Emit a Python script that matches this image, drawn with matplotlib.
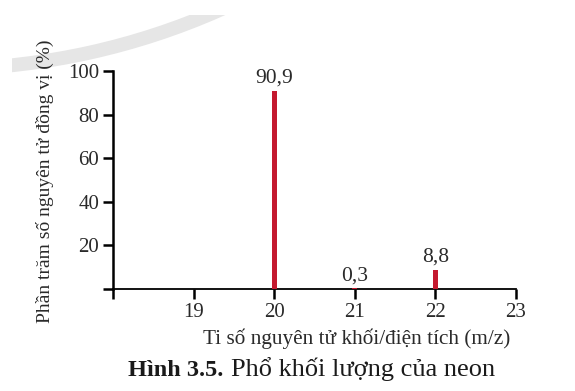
import numpy as np
import matplotlib
matplotlib.use("Agg")
import matplotlib.pyplot as plt
from matplotlib.patches import Arc

# mass spectrum of neon
mz = [20, 21, 22]
abundance = [90.9, 0.3, 8.8]
value_labels = ["90,9", "0,3", "8,8"]
x_ticks = [18, 19, 20, 21, 22, 23]
x_tick_labels = ["", "19", "20", "21", "22", "23"]
y_ticks = [0, 20, 40, 60, 80, 100]
y_tick_labels = ["", "20", "40", "60", "80", "100"]

plt.rcParams['font.family'] = ['Liberation Serif', 'DejaVu Serif']
text_color = '#2a2a2a'

fig = plt.figure(figsize=(5.75, 3.91), dpi=100)

# faint watermark arc in the top-left corner (pixel coordinates)
bg = fig.add_axes([0, 0, 1, 1])
bg.set_xlim(0, 575)
bg.set_ylim(391, 0)
bg.axis('off')
arc = Arc((-60, -623), 2 * 692, 2 * 692, theta1=55, theta2=100,
          color='#e6e6e6', lw=10)
bg.add_patch(arc)
clip = plt.Rectangle((12, 15), 563, 376, transform=bg.transData)
arc.set_clip_path(clip)

ax = fig.add_axes([113 / 575, 1 - 289 / 391, (516 - 113) / 575, (289 - 71) / 391])
ax.patch.set_alpha(0)
ax.bar(mz, abundance, width=0.06, color='#c4192f', zorder=3)
for x, y, lab in zip(mz, abundance, value_labels):
    ax.text(x, y + 1.5, lab, ha='center', va='bottom', fontsize=15.5, color=text_color)

ax.set_xlim(18, 23)
ax.set_ylim(0, 100)
ax.set_xticks(x_ticks)
ax.set_xticklabels(x_tick_labels)
ax.set_yticks(y_ticks)
ax.set_yticklabels(y_tick_labels)
ax.tick_params(axis='both', direction='out', length=7, width=1.8, labelsize=15,
               labelcolor=text_color, pad=3)
for side in ['top', 'right']:
    ax.spines[side].set_visible(False)
ax.spines['left'].set_linewidth(1.8)
ax.spines['bottom'].set_linewidth(1.3)

fig.text(45 / 575, 1 - 181 / 391, "Phần trăm số nguyên tử đồng vị (%)",
         rotation=90, ha='center', va='center', fontsize=14, color=text_color)
fig.text(357 / 575, 1 - 339 / 391, "Ti số nguyên tử khối/điện tích (m/z)",
         ha='center', va='center', fontsize=15.3, color=text_color)
fig.text(223 / 575, 1 - 376 / 391, "Hình 3.5.", ha='right', va='baseline',
         fontsize=17.5, fontweight='bold', color='#1a1a1a')
fig.text(231 / 575, 1 - 376 / 391, "Phổ khối lượng của neon", ha='left', va='baseline',
         fontsize=19, color='#1a1a1a')

fig.savefig("out.png", dpi=100)
